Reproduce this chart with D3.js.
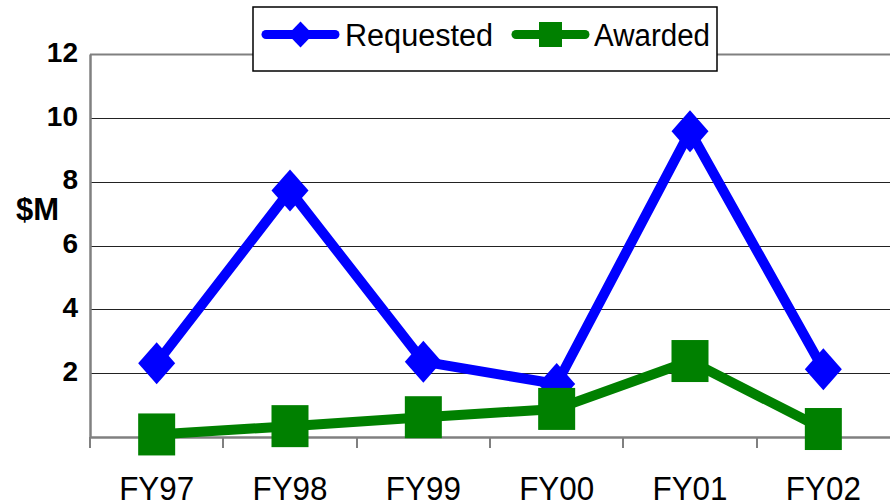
<!DOCTYPE html>
<html><head><meta charset="utf-8">
<script src="https://cdn.jsdelivr.net/npm/d3@7"></script>
<style>body{margin:0;background:#fff}svg{display:block}</style>
</head><body>
<svg id="c" width="890" height="503"></svg>
<script>
const categories = ["FY97","FY98","FY99","FY00","FY01","FY02"];
const requested = [2.31, 7.72, 2.36, 1.66, 9.58, 2.12];
const awarded = [0.08, 0.34, 0.62, 0.88, 2.38, 0.25];
const yTicks = [2,4,6,8,10,12];
const seriesNames = ["Requested","Awarded"];

const svg = d3.select("#c");
const L = 90, R = 890, T = 54, B = 437;
const x = d3.scaleBand().domain(categories).range([L, R]);
const y = d3.scaleLinear().domain([0, 12]).range([B, T]);
const cx = d => x(d) + x.bandwidth()/2;

// gridlines
svg.append("g").selectAll("line").data(yTicks).join("line")
  .attr("x1", L).attr("x2", R)
  .attr("y1", d => Math.round(y(d)) + 0.5).attr("y2", d => Math.round(y(d)) + 0.5)
  .attr("stroke", d => d === 12 ? "#808080" : "#222").attr("stroke-width", d => d === 12 ? 2 : 1);

// y axis
const yAxis = d3.axisLeft(y).tickValues(yTicks).tickSize(0).tickPadding(12);
const gy = svg.append("g").attr("transform", `translate(${L},0)`).call(yAxis);
gy.select(".domain").attr("stroke", "#808080").attr("stroke-width", 2.5);
gy.selectAll("text").attr("font-family", "Liberation Sans, Arial, sans-serif")
  .attr("font-weight", "bold").attr("font-size", 28).attr("fill", "#000").attr("dy", "0.26em");

// x axis
const xAxis = d3.axisBottom(x).tickSize(0).tickPadding(39);
const gx = svg.append("g").attr("transform", `translate(0,${B})`).call(xAxis);
gx.select(".domain").attr("stroke", "#808080").attr("stroke-width", 2.5);
gx.selectAll("text").attr("font-family", "Liberation Sans, Arial, sans-serif")
  .attr("font-size", 34).attr("fill", "#000")
  .attr("textLength", 75).attr("lengthAdjust", "spacingAndGlyphs");
// category boundary ticks
const bounds = categories.map(c => x(c));
svg.append("g").selectAll("line").data(bounds).join("line")
  .attr("x1", d => Math.round(d)).attr("x2", d => Math.round(d))
  .attr("y1", B).attr("y2", B + 11).attr("stroke", "#808080").attr("stroke-width", 2);

// y label
svg.append("text").attr("x", 16).attr("y", 220)
  .attr("font-family", "Liberation Sans, Arial, sans-serif").attr("font-weight", "bold")
  .attr("font-size", 31).attr("fill", "#000").text("$M");

const line = d3.line().x((d,i) => cx(categories[i])).y(d => y(d));
const MW = 37, MH = 42;
function diamond(w, h){ return `M0,${-h/2}L${w/2},0L0,${h/2}L${-w/2},0Z`; }

// Requested series
svg.append("path").datum(requested).attr("d", line).attr("fill", "none")
  .attr("stroke", "#0000ff").attr("stroke-width", 10).attr("stroke-linejoin", "round").attr("stroke-linecap", "round");
svg.append("g").selectAll("path").data(requested).join("path")
  .attr("transform", (d,i) => `translate(${cx(categories[i])},${y(d)})`)
  .attr("d", diamond(MW, MH)).attr("fill", "#0000ff");

// Awarded series
svg.append("path").datum(awarded).attr("d", line).attr("fill", "none")
  .attr("stroke", "#008000").attr("stroke-width", 10).attr("stroke-linejoin", "round").attr("stroke-linecap", "round");
svg.append("g").selectAll("rect").data(awarded).join("rect")
  .attr("x", (d,i) => cx(categories[i]) - MW/2).attr("y", d => y(d) - MH/2)
  .attr("width", MW).attr("height", MH).attr("fill", "#008000");

// legend
const lg = svg.append("g");
lg.append("rect").attr("x", 253).attr("y", 7).attr("width", 464).attr("height", 64)
  .attr("fill", "#fff").attr("stroke", "#000").attr("stroke-width", 1.5);
const legendItems = [
  {name: seriesNames[0], color: "#0000ff", x0: 263, shape: "diamond", tx: 345, tw: 148},
  {name: seriesNames[1], color: "#008000", x0: 513, shape: "square", tx: 594, tw: 116}
];
legendItems.forEach(it => {
  const ly = 34.5;
  lg.append("line").attr("x1", it.x0 + 3).attr("x2", it.x0 + 72).attr("y1", ly).attr("y2", ly)
    .attr("stroke", it.color).attr("stroke-width", 9).attr("stroke-linecap", "round");
  const mx = it.x0 + 37.5;
  if (it.shape === "diamond") {
    lg.append("path").attr("transform", `translate(${mx},${ly})`).attr("d", diamond(25, 26)).attr("fill", it.color);
  } else {
    lg.append("rect").attr("x", mx - 11.5).attr("y", ly - 12.5).attr("width", 23).attr("height", 25).attr("fill", it.color);
  }
  lg.append("text").attr("x", it.tx).attr("y", ly + 11.5)
    .attr("font-family", "Liberation Sans, Arial, sans-serif").attr("font-size", 31).attr("fill", "#000")
    .attr("textLength", it.tw).attr("lengthAdjust", "spacingAndGlyphs").text(it.name);
});
</script>
</body></html>
